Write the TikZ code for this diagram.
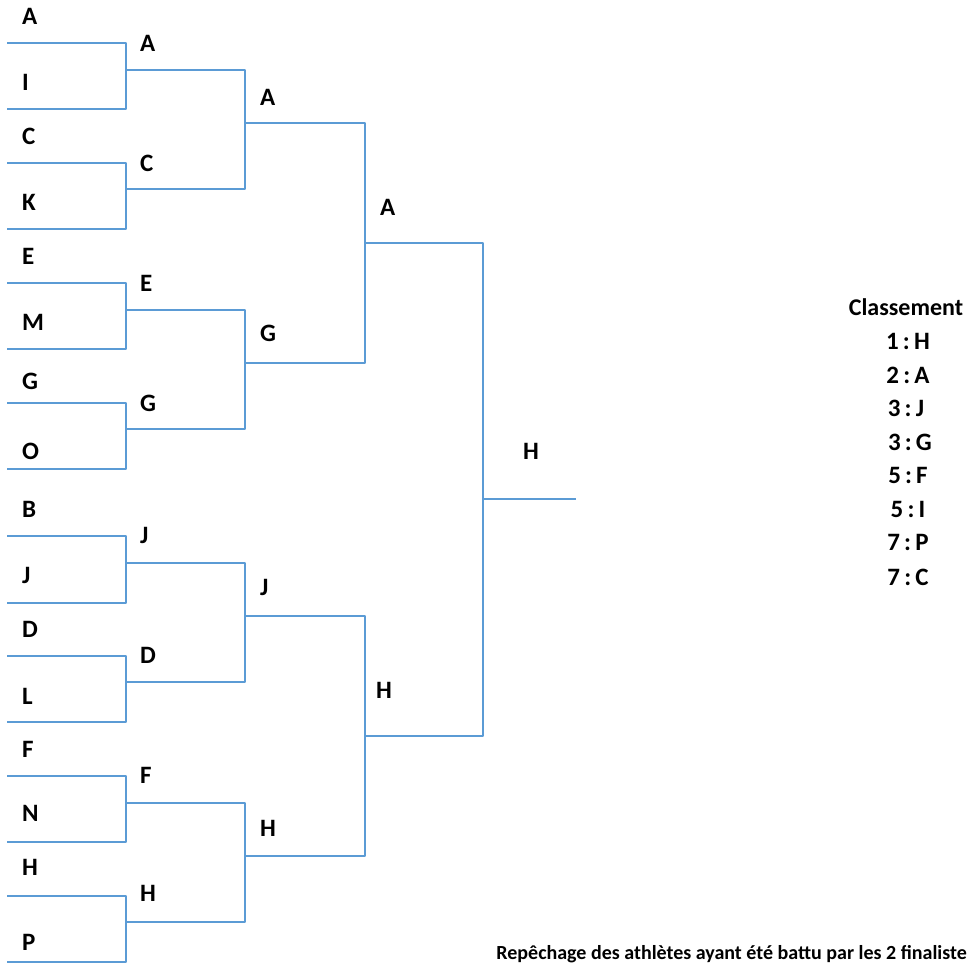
\documentclass[tikz,border=0pt]{standalone}
\usepackage{fontspec}
\setmainfont{Carlito}
\definecolor{brk}{RGB}{91,155,213}
\begin{document}
\begin{tikzpicture}[x=1pt,y=-1pt,
  brline/.style={draw=brk,line width=2pt,line join=round},
  lab/.style={anchor=west,inner sep=0pt,font=\fontsize{25}{30}\selectfont\bfseries},
  rank/.style={anchor=center,inner sep=0pt,font=\fontsize{25}{30}\selectfont\bfseries},
  note/.style={inner sep=0pt,font=\fontsize{20}{24}\selectfont\bfseries}]
\useasboundingbox (0,0) rectangle (970,964);
% round 1
\foreach \t/\b in {43/109,163/229,283/349,403/469,536/603,656/722,776/842,896/962}{
  \draw[brline] (7,\t) -- (126,\t) -- (126,\b) -- (7,\b);
}
% round 2
\foreach \a/\b in {70/189,310/429,563/682,803/922}{
  \draw[brline] (126,\a) -- (245,\a) -- (245,\b) -- (126,\b);
}
% round 3
\foreach \a/\b in {123/363,616/856}{
  \draw[brline] (245,\a) -- (365,\a) -- (365,\b) -- (245,\b);
}
% final
\draw[brline] (365,243) -- (483,243) -- (483,736) -- (365,736);
\draw[brline] (483,499) -- (576,499);
% column 0 labels
\node[lab] (p1) at (22,16) {A};
\node[lab] (p2) at (22,82) {I};
\node[lab] (p3) at (22,136) {C};
\node[lab] (p4) at (22,202) {K};
\node[lab] (p5) at (22,256) {E};
\node[lab] (p6) at (22,322) {M};
\node[lab] (p7) at (22,381) {G};
\node[lab] (p8) at (22,451) {O};
\node[lab] (p9) at (22,509) {B};
\node[lab] (p10) at (22,575) {J};
\node[lab] (p11) at (22,629) {D};
\node[lab] (p12) at (22,696) {L};
\node[lab] (p13) at (22,749) {F};
\node[lab] (p14) at (22,813) {N};
\node[lab] (p15) at (22,867) {H};
\node[lab] (p16) at (22,942) {P};
% column 1 labels
\node[lab] (q1) at (140,43) {A};
\node[lab] (q2) at (140,163) {C};
\node[lab] (q3) at (140,283) {E};
\node[lab] (q4) at (140,403) {G};
\node[lab] (q5) at (140,535) {J};
\node[lab] (q6) at (140,655) {D};
\node[lab] (q7) at (140,775) {F};
\node[lab] (q8) at (140,893) {H};
% column 2 labels
\node[lab] (r1) at (260,97) {A};
\node[lab] (r2) at (260,333) {G};
\node[lab] (r3) at (260,587) {J};
\node[lab] (r4) at (260,828) {H};
% column 3 labels
\node[lab] (s1) at (380,207) {A};
\node[lab] (s2) at (376,690) {H};
% winner
\node[lab] (w) at (523,451) {H};
% ranking
\node[note,font=\fontsize{24}{28}\selectfont\bfseries] (cl) at (906,307) {Classement};
\node[rank] (k1) at (908,341) {1\,:\,H};
\node[rank] (k2) at (908,375) {2\,:\,A};
\node[rank] (k3) at (906,408) {3\,:\,J};
\node[rank] (k4) at (910,442) {3\,:\,G};
\node[rank] (k5) at (908,475) {5\,:\,F};
\node[rank] (k6) at (908,509) {5\,:\,I};
\node[rank] (k7) at (908,542) {7\,:\,P};
\node[rank] (k8) at (908,577) {7\,:\,C};
% note
\node[note,anchor=east] (rep) at (967,954) {Repêchage des athlètes ayant été battu par les 2 finaliste};
\end{tikzpicture}
\end{document}
